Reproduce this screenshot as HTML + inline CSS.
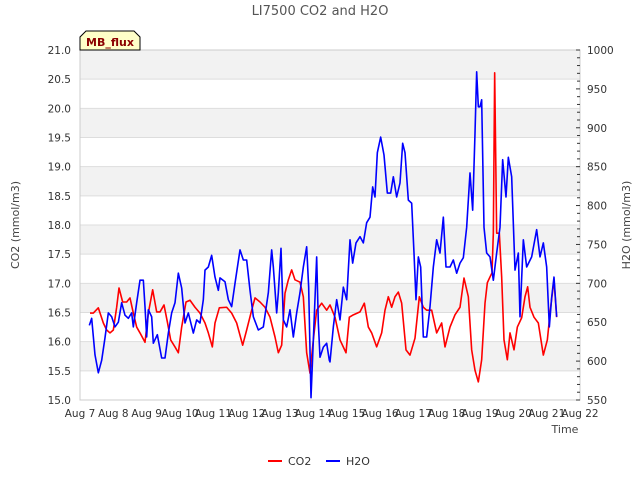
<!DOCTYPE html>
<html><head><meta charset="utf-8"><style>
body{margin:0;background:#fff;}
svg{display:block;font-family:"DejaVu Sans","Liberation Sans",sans-serif;}
</style></head><body>
<svg id="chart" width="640" height="480" viewBox="0 0 640 480">
<text x="320" y="15" text-anchor="middle" font-size="13" fill="#555">LI7500 CO2 and H2O</text>
<g id="bands"></g>
<g id="grid"></g>
<rect x="80" y="50" width="500" height="350" fill="none" stroke="#ccc"/>
<g id="xticks"></g><g id="lticks"></g><g id="rticks"></g>
<g id="series"></g>
<path d="M80,50 L80,37 L86,31 L134,31 L140,37 L140,50 Z" fill="#ffffc8" stroke="#000" stroke-width="1"/>
<text x="110" y="46" text-anchor="middle" font-size="11" font-weight="bold" fill="#8b0000">MB_flux</text>
<text x="565" y="433" text-anchor="middle" font-size="11" fill="#444">Time</text>
<text transform="translate(19,225) rotate(-90)" text-anchor="middle" font-size="11" fill="#444">CO2 (mmol/m3)</text>
<text transform="translate(630,225) rotate(-90)" text-anchor="middle" font-size="11" fill="#444">H2O (mmol/m3)</text>
<g>
<line x1="268" y1="461" x2="282" y2="461" stroke="#f00" stroke-width="2"/>
<text x="288" y="465" font-size="11" fill="#333">CO2</text>
<line x1="326" y1="461" x2="340" y2="461" stroke="#00f" stroke-width="2"/>
<text x="346" y="465" font-size="11" fill="#333">H2O</text>
</g>
</svg>
<script>
const xLabels=["Aug 7","Aug 8","Aug 9","Aug 10","Aug 11","Aug 12","Aug 13","Aug 14","Aug 15","Aug 16","Aug 17","Aug 18","Aug 19","Aug 20","Aug 21","Aug 22"];
const leftTicks=[15.0,15.5,16.0,16.5,17.0,17.5,18.0,18.5,19.0,19.5,20.0,20.5,21.0];
const rightTicks=[550,600,650,700,750,800,850,900,950,1000];
const h2oDays=[0.28,0.35,0.45,0.55,0.65,0.75,0.85,0.95,1.05,1.15,1.25,1.35,1.45,1.55,1.60,1.70,1.80,1.90,1.95,2.00,2.05,2.15,2.20,2.32,2.45,2.55,2.65,2.75,2.85,2.95,3.05,3.15,3.25,3.40,3.50,3.60,3.70,3.75,3.85,3.95,4.05,4.15,4.20,4.35,4.45,4.55,4.65,4.80,4.90,5.00,5.10,5.20,5.35,5.50,5.65,5.75,5.80,5.90,5.95,6.03,6.10,6.20,6.30,6.40,6.50,6.60,6.70,6.80,6.86,6.93,7.00,7.10,7.15,7.20,7.30,7.40,7.48,7.50,7.60,7.70,7.80,7.90,8.00,8.10,8.18,8.28,8.40,8.50,8.60,8.70,8.78,8.85,8.92,9.02,9.12,9.22,9.32,9.40,9.50,9.60,9.68,9.75,9.85,9.95,10.02,10.08,10.15,10.22,10.30,10.40,10.50,10.60,10.70,10.80,10.90,10.98,11.10,11.20,11.30,11.40,11.50,11.60,11.70,11.78,11.85,11.90,11.95,12.00,12.05,12.12,12.20,12.30,12.40,12.50,12.60,12.68,12.78,12.85,12.95,13.05,13.15,13.20,13.30,13.40,13.55,13.70,13.80,13.90,14.00,14.08,14.15,14.22,14.30];
const h2oValues=[646,655,608,585,601,630,662,657,644,650,675,659,655,662,644,675,704,704,670,631,666,657,623,634,604,604,636,662,675,713,694,649,662,636,653,649,679,717,721,736,708,691,707,702,679,670,700,743,730,730,691,657,640,644,688,743,721,662,688,745,653,644,666,631,662,688,721,747,695,553,627,734,649,605,618,623,601,599,644,679,653,695,679,756,726,752,760,752,778,785,824,811,868,888,865,816,816,837,811,829,880,868,807,803,739,679,734,721,631,631,670,721,756,739,785,721,721,730,713,726,733,772,842,794,893,972,927,927,936,772,739,734,704,739,772,859,811,862,837,717,739,657,756,721,734,769,734,752,721,644,682,708,657];
const co2Days=[0.30,0.40,0.55,0.70,0.80,0.90,1.00,1.10,1.17,1.28,1.40,1.50,1.60,1.70,1.80,1.95,2.05,2.18,2.30,2.40,2.52,2.62,2.72,2.85,2.95,3.05,3.18,3.30,3.45,3.60,3.75,3.85,3.97,4.05,4.18,4.40,4.55,4.70,4.88,5.00,5.15,5.25,5.40,5.55,5.70,5.85,5.95,6.05,6.15,6.25,6.35,6.45,6.60,6.70,6.80,6.90,7.00,7.10,7.25,7.40,7.50,7.65,7.80,7.98,8.08,8.20,8.40,8.53,8.65,8.75,8.90,9.05,9.15,9.25,9.35,9.45,9.55,9.65,9.78,9.90,10.05,10.18,10.30,10.40,10.55,10.70,10.85,10.95,11.10,11.25,11.40,11.52,11.65,11.75,11.85,11.95,12.05,12.15,12.22,12.30,12.36,12.40,12.44,12.50,12.58,12.65,12.72,12.82,12.90,13.02,13.12,13.25,13.35,13.43,13.50,13.62,13.75,13.90,14.02,14.12,14.22,14.30];
const co2Values=[16.49,16.49,16.58,16.32,16.20,16.15,16.20,16.59,16.92,16.68,16.68,16.75,16.49,16.25,16.15,15.99,16.49,16.89,16.51,16.51,16.63,16.34,16.03,15.91,15.81,16.25,16.68,16.71,16.59,16.49,16.32,16.15,15.91,16.32,16.58,16.59,16.49,16.32,15.94,16.20,16.54,16.75,16.68,16.59,16.42,16.08,15.81,15.94,16.83,17.06,17.23,17.06,17.02,16.77,15.81,15.46,16.03,16.54,16.66,16.54,16.63,16.42,16.03,15.81,16.42,16.46,16.51,16.66,16.25,16.15,15.91,16.15,16.54,16.77,16.59,16.77,16.85,16.66,15.86,15.77,16.06,16.77,16.59,16.54,16.54,16.15,16.32,15.91,16.25,16.46,16.59,17.09,16.77,15.86,15.51,15.31,15.69,16.66,17.01,17.11,17.18,17.86,20.61,17.86,17.86,17.11,16.03,15.69,16.15,15.86,16.25,16.41,16.77,16.94,16.59,16.42,16.32,15.77,16.03,16.59,17.06,16.42];

const NS='http://www.w3.org/2000/svg';
const X0=80,X1=580,Y0=400,Y1=50;
const xs=d=>X0+d*(X1-X0)/15;
const yl=v=>Y0-(v-15)*(Y0-Y1)/6;
const yr=v=>Y0-(v-550)*(Y0-Y1)/450;
function mk(tag,attrs,parent){const e=document.createElementNS(NS,tag);for(const k in attrs)e.setAttribute(k,attrs[k]);parent.appendChild(e);return e;}
const bands=document.getElementById('bands'),grid=document.getElementById('grid');
for(let i=1;i<leftTicks.length;i+=2){
 const r=mk('rect',{x:X0,y:yl(leftTicks[i+1]!==undefined?leftTicks[i+1]:21),width:X1-X0,height:yl(leftTicks[i])-yl(leftTicks[i+1]!==undefined?leftTicks[i+1]:21),fill:'#f2f2f2'},bands);
 
 
}
const lt=document.getElementById('lticks');
leftTicks.forEach(v=>{
 const l=mk('line',{x1:X0,x2:X1,y1:yl(v),y2:yl(v),stroke:'#ddd'},grid);
 
 
 const t=mk('text',{x:X0-9,y:yl(v)+4,'text-anchor':'end','font-size':'10.5',fill:'#333'},lt);
 t.textContent=v.toFixed(1);
 
 
});
const rt=document.getElementById('rticks');
for(let v=550;v<=1000;v+=10){
 const major=v%50===0;
 const l=mk('line',{x1:X1-(major?4:3),x2:X1,y1:yr(v),y2:yr(v),stroke:'#333'},rt);
 
 
}
rightTicks.forEach(v=>{
 const t=mk('text',{x:X1+7,y:yr(v)+4,'font-size':'10.5',fill:'#333'},rt);
 t.textContent=v;
 
 
});
const xt=document.getElementById('xticks');
xLabels.forEach((s,i)=>{
 const t=mk('text',{x:xs(i),y:417,'text-anchor':'middle','font-size':'10.5',fill:'#333'},xt);
 t.textContent=s;
 
 
});
const ser=document.getElementById('series');
const pc=mk('polyline',{points:co2Days.map((d,i)=>xs(d)+','+yl(co2Values[i])).join(' '),fill:'none',stroke:'#f00','stroke-width':1.6,'stroke-linejoin':'round'},ser);


const ph=mk('polyline',{points:h2oDays.map((d,i)=>xs(d)+','+yr(h2oValues[i])).join(' '),fill:'none',stroke:'#00f','stroke-width':1.6,'stroke-linejoin':'round'},ser);


</script>
</body></html>
